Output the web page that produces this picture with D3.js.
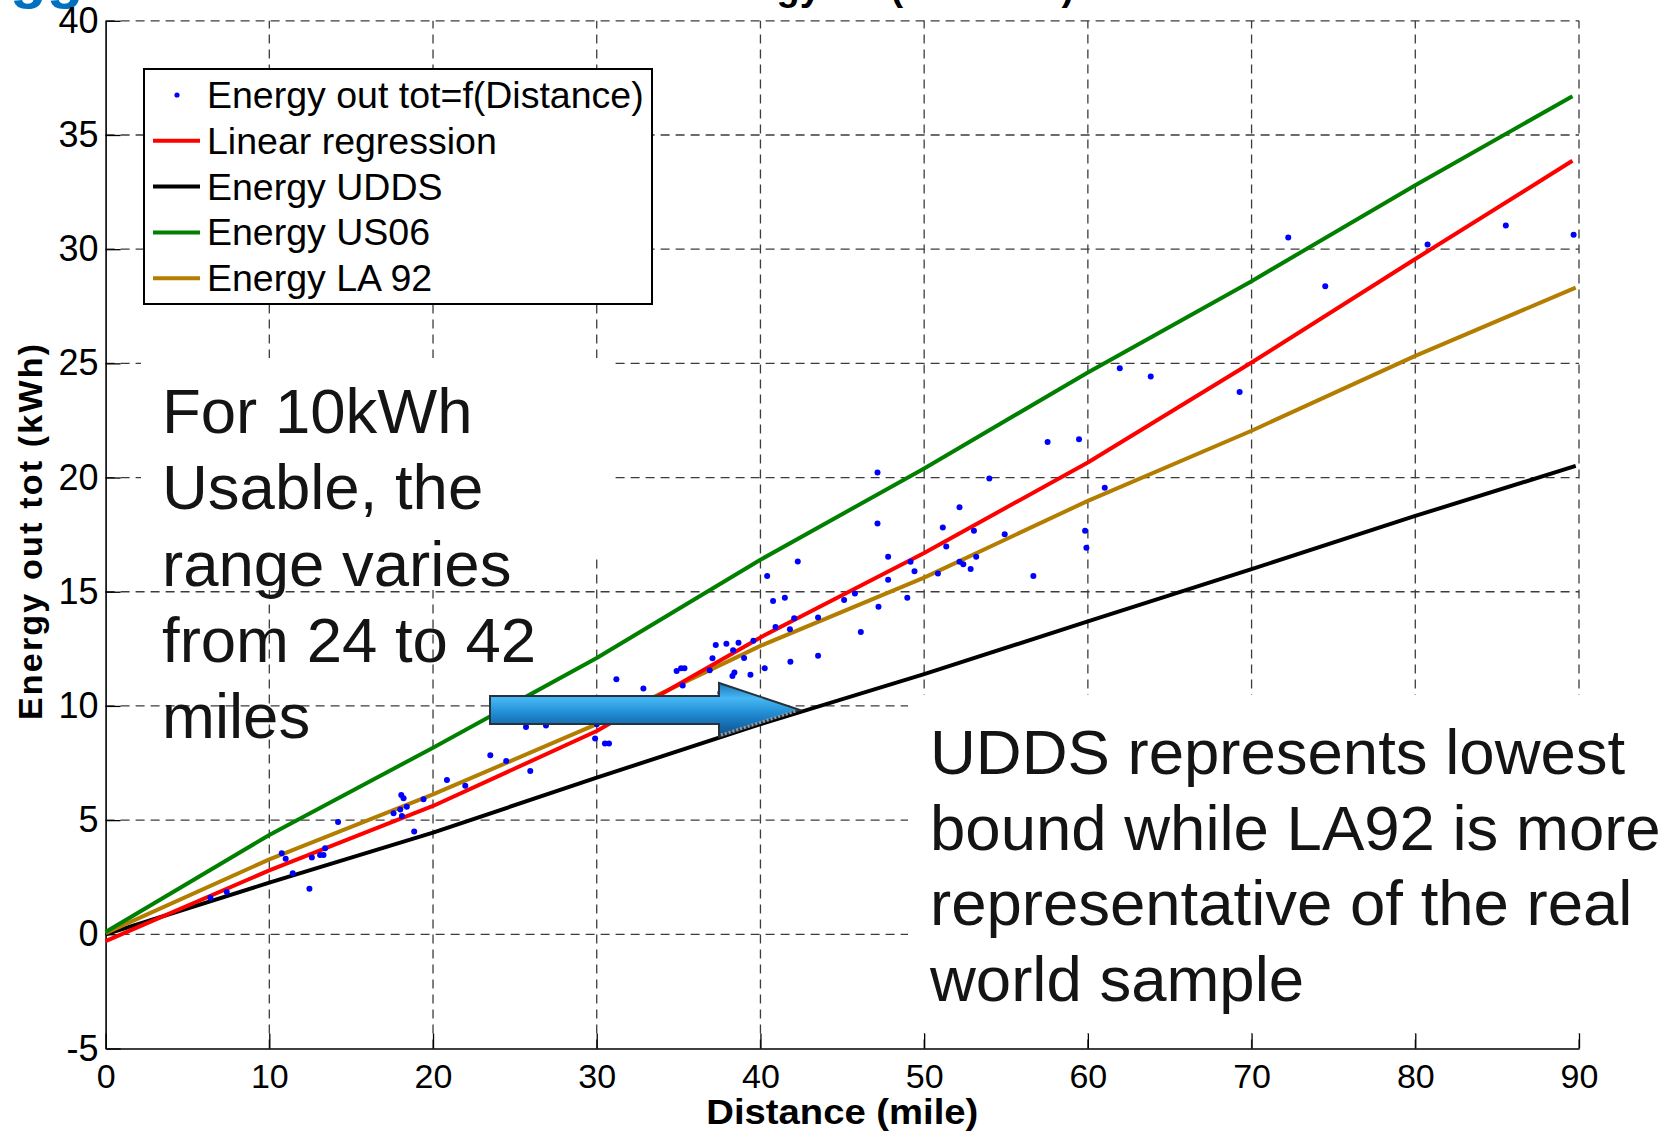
<!DOCTYPE html>
<html>
<head>
<meta charset="utf-8">
<script src="https://cdn.jsdelivr.net/npm/d3@7"></script>
<style>
  body { margin: 0; background: #fff; }
  svg text { font-family: "Liberation Sans", Arial, Helvetica, sans-serif; }
</style>
</head>
<body>
<div id="chart"></div>
<script>

// measured samples : distance (mile) / energy out tot (kWh)
var ptDist = [6.4, 7.4, 10.76, 11.0, 11.43, 12.45, 12.6, 13.1, 13.31, 13.41, 14.2, 17.59, 18.0, 18.06, 18.2, 18.1,
  18.4, 18.85, 19.42, 20.85, 21.97, 23.5, 24.47, 25.94, 25.68, 26.9, 29.9, 30.5, 30.75, 31.2, 30.0, 32.85,
  34.88, 35.15, 35.36, 35.25, 36.9, 37.07, 37.27, 37.92, 38.33, 38.66, 39.0, 38.29, 38.41, 39.39, 39.57, 37.55,
  40.26, 40.41, 40.77, 40.92, 41.49, 41.83, 42.06, 42.28, 41.8, 43.52, 43.52, 45.11, 45.77, 46.13, 47.15, 47.15,
  47.21, 47.8, 47.8, 48.97, 49.17, 49.41, 50.84, 51.14, 51.35, 52.16, 52.16, 52.39, 52.84, 53.04, 53.18, 53.98,
  54.92, 56.67, 57.54, 59.46, 59.83, 59.91, 61.03, 61.95, 63.84, 69.27, 72.24, 74.5, 80.75, 85.53, 89.67];
var ptEnergy = [1.6, 1.85, 3.55, 3.31, 2.67, 2.0, 3.36, 3.47, 3.47, 3.77, 4.92, 5.3, 5.47, 6.1, 5.96, 5.18,
  5.59, 4.5, 5.91, 6.76, 6.5, 7.84, 7.59, 7.15, 9.08, 9.14, 8.57, 8.35, 8.35, 11.17, 9.2, 10.76,
  11.53, 11.65, 11.65, 10.9, 11.56, 12.09, 12.67, 12.72, 12.44, 12.77, 12.1, 11.31, 11.46, 11.37, 12.85, 10.58,
  11.65, 15.69, 14.6, 13.46, 14.74, 11.94, 13.84, 16.32, 13.36, 13.87, 12.2, 14.64, 14.92, 13.24, 20.22, 17.99,
  14.34, 16.53, 15.53, 14.74, 16.31, 15.9, 15.8, 17.81, 16.98, 18.7, 16.31, 16.2, 16.0, 17.67, 16.53, 19.96,
  17.52, 15.69, 21.56, 21.68, 17.67, 16.93, 19.55, 24.79, 24.43, 23.75, 30.51, 28.38, 30.21, 31.04, 30.63];

// curves
var regDist = [0, 10, 20, 30, 40, 50, 60, 70, 80, 89.6];
var regEnergy = [-0.3, 2.8, 5.62, 8.9, 13.0, 16.7, 20.66, 25.04, 29.57, 33.87];
var uddsDist = [0, 10, 20, 30, 40, 50, 60, 70, 80, 89.8];
var uddsEnergy = [0, 2.26, 4.45, 6.86, 9.2, 11.39, 13.7, 15.99, 18.32, 20.51];
var us06Dist = [0, 10, 20, 30, 40, 50, 60, 70, 80, 89.6];
var us06Energy = [0.1, 4.35, 8.17, 12.1, 16.4, 20.4, 24.6, 28.6, 32.8, 36.7];
var la92Dist = [0, 10, 20, 30, 40, 50, 60, 70, 80, 89.8];
var la92Energy = [0.05, 3.28, 6.13, 9.2, 12.63, 15.62, 18.98, 22.05, 25.33, 28.32];

var xTicks = [0, 10, 20, 30, 40, 50, 60, 70, 80, 90];
var yTicks = [-5, 0, 5, 10, 15, 20, 25, 30, 35, 40];

var legendLabels = ["Energy out tot=f(Distance)", "Linear regression", "Energy UDDS", "Energy US06", "Energy LA 92"];
var noteLeft = ["For 10kWh", "Usable, the", "range varies", "from 24 to 42", "miles"];
var noteRight = ["UDDS represents lowest", "bound while LA92 is more", "representative of the real", "world sample"];

function drawChart(){

	var W = 1673, H = 1133;

	var svg = d3.select("#chart")
		.append("svg")
		.attr("width", W)
		.attr("height", H);

	var x = d3.scaleLinear().domain([0, 90]).range([105.6, 1579]);
	var y = d3.scaleLinear().domain([-5, 40]).range([1048.5, 20.8]);

	// clipped title remnants at the very top
	svg.append("text")
		.attr("x", 10).attr("y", -3)
		.style("font-size", "60px").style("font-weight", "bold")
		.style("fill", "#0070c0")
		.text("gg");
	svg.append("text")
		.attr("x", 692).attr("y", -0.5)
		.style("font-size", "38px").style("font-weight", "bold")
		.text("Energy tot (Distance)");

	// dashed grid
	var grid = svg.append("g")
		.attr("stroke", "#3c3c3c")
		.attr("stroke-width", 1.3)
		.attr("stroke-dasharray", "9,6");
	grid.selectAll(".gx")
		.data(xTicks.filter(function(d){ return d > 0; }))
		.enter().append("line")
		.attr("x1", function(d){ return x(d); })
		.attr("x2", function(d){ return x(d); })
		.attr("y1", y(-5)).attr("y2", y(40));
	grid.selectAll(".gy")
		.data(yTicks.filter(function(d){ return d > -5; }))
		.enter().append("line")
		.attr("y1", function(d){ return y(d); })
		.attr("y2", function(d){ return y(d); })
		.attr("x1", x(0)).attr("x2", x(90));

	// white backing of the annotation text boxes
	svg.append("rect").attr("x", 141).attr("y", 358).attr("width", 455).attr("height", 232).attr("fill", "#fff");
	svg.append("rect").attr("x", 596).attr("y", 358).attr("width", 16).attr("height", 197).attr("fill", "#fff");
	svg.append("rect").attr("x", 908).attr("y", 695).attr("width", 765).attr("height", 338).attr("fill", "#fff");

	// axes (ticks point inward)
	var fmt = function(d){ return String(d); };
	var yAxis = svg.append("g")
		.attr("transform", "translate(" + x(0) + ",0)")
		.call(d3.axisLeft(y).tickValues(yTicks).tickFormat(fmt).tickSizeInner(-15).tickSizeOuter(0).tickPadding(7));
	var xAxis = svg.append("g")
		.attr("transform", "translate(0," + y(-5) + ")")
		.call(d3.axisBottom(x).tickValues(xTicks).tickFormat(fmt).tickSizeInner(-15).tickSizeOuter(0).tickPadding(15));
	[yAxis, xAxis].forEach(function(a){
		a.select(".domain").attr("stroke", "#000").attr("stroke-width", 1.6);
		a.selectAll(".tick line").attr("stroke", "#000").attr("stroke-width", 1.3);
		a.selectAll(".tick text")
			.style("font-family", "'Liberation Sans', Arial, sans-serif")
			.style("fill", "#000");
	});
	yAxis.selectAll(".tick text").style("font-size", "36px");
	xAxis.selectAll(".tick text").style("font-size", "34px");

	// axis titles
	svg.append("text")
		.attr("x", x(45)).attr("y", 1124)
		.attr("text-anchor", "middle")
		.attr("textLength", 272).attr("lengthAdjust", "spacingAndGlyphs")
		.style("font-size", "35px").style("font-weight", "bold")
		.text("Distance (mile)");
	svg.append("text")
		.attr("transform", "translate(42,532) rotate(-90)")
		.attr("text-anchor", "middle")
		.attr("textLength", 376).attr("lengthAdjust", "spacing")
		.style("font-size", "34px").style("font-weight", "bold")
		.text("Energy out tot (kWh)");

	// curves
	var line = d3.line()
		.x(function(d){ return x(d[0]); })
		.y(function(d){ return y(d[1]); });
	var curves = [
		{dist: uddsDist, energy: uddsEnergy, color: "#000000"},
		{dist: la92Dist, energy: la92Energy, color: "#b37d00"},
		{dist: regDist, energy: regEnergy, color: "#ff0000"},
		{dist: us06Dist, energy: us06Energy, color: "#007f00"}
	];
	curves.forEach(function(c){
		svg.append("path")
			.datum(d3.zip(c.dist, c.energy))
			.attr("fill", "none")
			.attr("stroke", c.color)
			.attr("stroke-width", 4)
			.attr("stroke-linejoin", "round")
			.attr("d", line);
	});

	// sample points
	svg.append("g")
		.selectAll("circle")
		.data(d3.zip(ptDist, ptEnergy))
		.enter()
		.append("circle")
		.attr("cx", function(d){ return x(d[0]); })
		.attr("cy", function(d){ return y(d[1]); })
		.attr("r", 3)
		.style("fill", "#0000ff");

	// legend
	var legend = svg.append("g");
	legend.append("rect")
		.attr("x", 144).attr("y", 69).attr("width", 508).attr("height", 235)
		.attr("fill", "#fff").attr("stroke", "#000").attr("stroke-width", 2);
	var legColors = [null, "#ff0000", "#000000", "#007f00", "#b37d00"];
	legendLabels.forEach(function(lab, i){
		var cy = 95 + i * 45.8;
		if (i === 0) {
			legend.append("circle").attr("cx", 177).attr("cy", cy).attr("r", 2.6).style("fill", "#0000ff");
		} else {
			legend.append("line")
				.attr("x1", 153).attr("x2", 200).attr("y1", cy).attr("y2", cy)
				.attr("stroke", legColors[i]).attr("stroke-width", 4);
		}
		legend.append("text")
			.attr("x", 207).attr("y", cy + 13)
			.style("font-size", "37.5px")
			.text(lab);
	});

	// arrow pointing at the UDDS line
	var defs = svg.append("defs");
	var grad = defs.append("linearGradient")
		.attr("id", "arrowFill").attr("x1", 0).attr("y1", 0).attr("x2", 0).attr("y2", 1);
	grad.append("stop").attr("offset", "0%").attr("stop-color", "#1c74b8");
	grad.append("stop").attr("offset", "28%").attr("stop-color", "#46b8f4");
	grad.append("stop").attr("offset", "60%").attr("stop-color", "#1d86cf");
	grad.append("stop").attr("offset", "100%").attr("stop-color", "#0f4d85");
	svg.append("path")
		.attr("d", "M490,696 L719,696 L719,683 L800,710 L719,737 L719,724 L490,724 Z")
		.attr("fill", "url(#arrowFill)")
		.attr("stroke", "#28323c")
		.attr("stroke-width", 2)
		.attr("stroke-linejoin", "miter");
	svg.append("line")
		.attr("x1", 721).attr("y1", 735).attr("x2", 796).attr("y2", 711)
		.attr("stroke", "#9a9a9a").attr("stroke-width", 3).attr("stroke-dasharray", "2,2");

	// annotation texts
	svg.append("g").selectAll("text")
		.data(noteLeft).enter().append("text")
		.attr("x", 162)
		.attr("y", function(d, i){ return 433 + i * 76.3; })
		.style("font-size", "63.5px").style("fill", "#141414")
		.text(function(d){ return d; });
	svg.append("g").selectAll("text")
		.data(noteRight).enter().append("text")
		.attr("x", 930)
		.attr("y", function(d, i){ return 774 + i * 75.5; })
		.style("font-size", "63.5px").style("fill", "#141414")
		.text(function(d){ return d; });
}

drawChart();
</script>
</body>
</html>
